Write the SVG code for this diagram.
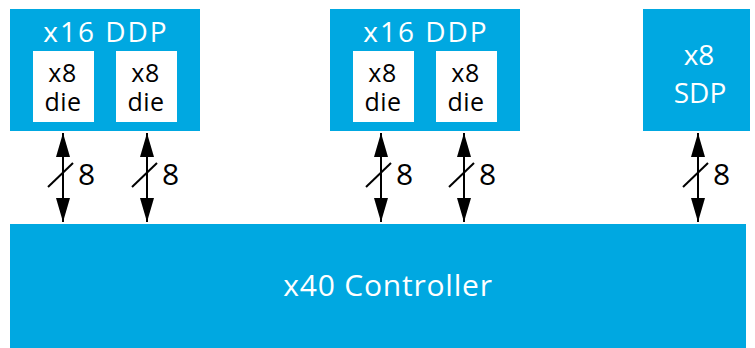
<svg xmlns="http://www.w3.org/2000/svg" width="755" height="348" viewBox="0 0 755 348">
<defs>
<style>
.blk{fill:#00A8E1}
.die{fill:#fff}
.wt{fill:#fff;font-family:"Open Sans","Noto Sans",sans-serif;text-anchor:middle}
.bt{fill:#000;font-family:"Open Sans","Noto Sans",sans-serif;text-anchor:middle}
.ttl{font-size:28px;letter-spacing:2px}
.dt{font-size:25px;letter-spacing:0.5px}
.bw{font-size:30px}
.ln{stroke:#000;stroke-width:2;fill:none}
</style>
<marker id="a" viewBox="0 0 24 14" refX="24" refY="7" markerWidth="24" markerHeight="14" orient="auto-start-reverse" markerUnits="userSpaceOnUse">
<path d="M0,0 L24,7 L0,14 Z" fill="#000"/>
</marker>
</defs>
<g id="ddp1">
<rect class="blk" x="10" y="9" width="190" height="122"/>
<text class="wt ttl" x="106" y="42">x16 DDP</text>
<rect class="die" x="33" y="51" width="61" height="71"/>
<text class="bt dt" x="62.5" y="82">x8</text>
<text class="bt dt" x="63" y="111">die</text>
<rect class="die" x="116" y="51" width="61" height="71"/>
<text class="bt dt" x="145.5" y="82">x8</text>
<text class="bt dt" x="146" y="111">die</text>
</g>
<g id="ddp2">
<rect class="blk" x="330" y="9" width="190" height="122"/>
<text class="wt ttl" x="426" y="42">x16 DDP</text>
<rect class="die" x="353" y="51" width="61" height="71"/>
<text class="bt dt" x="382.5" y="82">x8</text>
<text class="bt dt" x="383" y="111">die</text>
<rect class="die" x="436" y="51" width="61" height="71"/>
<text class="bt dt" x="465.5" y="82">x8</text>
<text class="bt dt" x="466" y="111">die</text>
</g>
<g id="sdp">
<rect class="blk" x="643" y="9" width="107" height="122"/>
<text class="wt" x="699" y="65" font-size="28">x8</text>
<text class="wt" x="700" y="103" font-size="28">SDP</text>
</g>
<g id="controller">
<rect class="blk" x="10" y="224" width="736" height="124"/>
<text class="wt" x="388" y="296" font-size="30" letter-spacing="0.8">x40 Controller</text>
</g>
<g id="connectors">
<g>
<line class="ln" x1="63" y1="133" x2="63" y2="222" marker-start="url(#a)" marker-end="url(#a)"/>
<line class="ln" x1="48" y1="187" x2="73" y2="163"/>
<text class="bt bw" x="86.5" y="185">8</text>
</g>
<g>
<line class="ln" x1="147" y1="133" x2="147" y2="222" marker-start="url(#a)" marker-end="url(#a)"/>
<line class="ln" x1="132" y1="187" x2="157" y2="163"/>
<text class="bt bw" x="170.5" y="185">8</text>
</g>
<g>
<line class="ln" x1="381" y1="133" x2="381" y2="222" marker-start="url(#a)" marker-end="url(#a)"/>
<line class="ln" x1="366" y1="187" x2="391" y2="163"/>
<text class="bt bw" x="404.5" y="185">8</text>
</g>
<g>
<line class="ln" x1="464" y1="133" x2="464" y2="222" marker-start="url(#a)" marker-end="url(#a)"/>
<line class="ln" x1="449" y1="187" x2="474" y2="163"/>
<text class="bt bw" x="487.5" y="185">8</text>
</g>
<g>
<line class="ln" x1="698" y1="133" x2="698" y2="222" marker-start="url(#a)" marker-end="url(#a)"/>
<line class="ln" x1="683" y1="187" x2="708" y2="163"/>
<text class="bt bw" x="721.5" y="185">8</text>
</g>
</g>
</svg>
